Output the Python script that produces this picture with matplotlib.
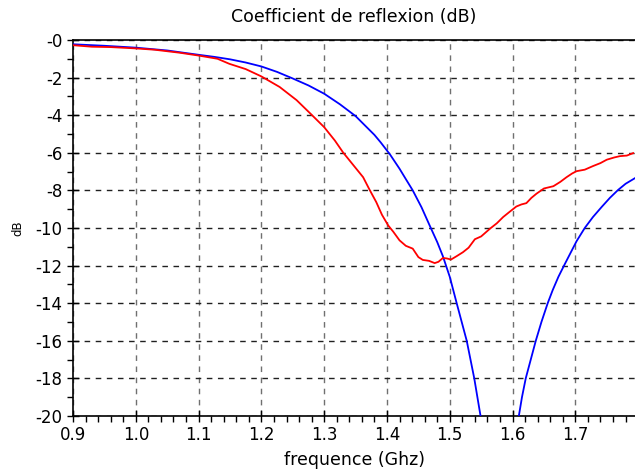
import numpy as np
import matplotlib
matplotlib.use("Agg")
import matplotlib.pyplot as plt
from matplotlib.ticker import MultipleLocator, FuncFormatter

# Courbe mesuree (rouge)
freq_mesure = [0.90, 0.93, 0.96, 1.00, 1.03, 1.07, 1.10, 1.13, 1.149, 1.175,
               1.20, 1.229, 1.256, 1.28, 1.30, 1.317, 1.33, 1.345, 1.362, 1.372,
               1.383, 1.392, 1.402, 1.41, 1.42, 1.43, 1.441, 1.45, 1.457, 1.467,
               1.476, 1.482, 1.489, 1.495, 1.502, 1.511, 1.521, 1.53, 1.54, 1.55,
               1.564, 1.575, 1.585, 1.595, 1.606, 1.614, 1.622, 1.63, 1.638, 1.65,
               1.665, 1.676, 1.686, 1.695, 1.702, 1.715, 1.728, 1.74, 1.75, 1.762,
               1.771, 1.782, 1.792]
s11_mesure = [-0.28, -0.36, -0.38, -0.45, -0.52, -0.68, -0.83, -1.0, -1.27, -1.55,
              -1.94, -2.5, -3.2, -3.98, -4.64, -5.35, -5.98, -6.6, -7.3, -7.95,
              -8.63, -9.3, -9.87, -10.2, -10.66, -10.95, -11.1, -11.55, -11.7, -11.75,
              -11.87, -11.8, -11.6, -11.62, -11.68, -11.5, -11.29, -11.05, -10.6, -10.45,
              -10.04, -9.75, -9.42, -9.15, -8.86, -8.75, -8.68, -8.4, -8.18, -7.9,
              -7.78, -7.55, -7.3, -7.1, -6.98, -6.9, -6.71, -6.55, -6.37, -6.25,
              -6.18, -6.15, -6.02]

# Courbe simulee (bleue), coupee sous -20 dB
freq_simu = [0.90, 0.95, 1.00, 1.05, 1.10, 1.125, 1.15, 1.175, 1.20, 1.225,
             1.25, 1.275, 1.30, 1.325, 1.35, 1.365, 1.38, 1.39, 1.405, 1.42,
             1.43, 1.441, 1.455, 1.468, 1.48, 1.489, 1.50, 1.511, 1.519, 1.527,
             1.533, 1.539, 1.544, 1.549,
             np.nan,
             1.61, 1.615, 1.621, 1.629, 1.637, 1.646, 1.656, 1.664, 1.673, 1.682,
             1.692, 1.702, 1.715, 1.728, 1.742, 1.755, 1.768, 1.78, 1.795]
s11_simu = [-0.23, -0.31, -0.41, -0.56, -0.79, -0.9, -1.03, -1.2, -1.41, -1.7,
            -2.05, -2.42, -2.86, -3.42, -4.05, -4.55, -5.05, -5.45, -6.1, -6.85,
            -7.4, -8.0, -8.9, -9.87, -10.75, -11.5, -12.6, -14.0, -15.0, -16.0,
            -17.0, -18.0, -19.0, -20.0,
            np.nan,
            -20.0, -19.0, -18.0, -17.0, -16.0, -15.0, -14.0, -13.3, -12.6, -12.0,
            -11.35, -10.7, -10.0, -9.42, -8.88, -8.4, -7.98, -7.65, -7.35]

fig = plt.figure(figsize=(6.35, 4.7), dpi=100)
ax = fig.add_axes([0.115, 0.115, 0.885, 0.8])

ax.plot(freq_simu, s11_simu, color='blue', lw=1.3, zorder=3)
ax.plot(freq_mesure, s11_mesure, color='red', lw=1.3, zorder=3)

ax.set_xlim(0.9, 1.795)
ax.set_ylim(-20, 0)

ax.xaxis.set_major_locator(MultipleLocator(0.1))
ax.xaxis.set_minor_locator(MultipleLocator(0.02))
ax.yaxis.set_major_locator(MultipleLocator(2))
ax.yaxis.set_minor_locator(MultipleLocator(1))
ax.yaxis.set_major_formatter(FuncFormatter(lambda v, p: "-%d" % abs(round(v))))
ax.xaxis.set_major_formatter(FuncFormatter(lambda v, p: "%.1f" % v))

ax.tick_params(which='major', direction='inout', length=8, width=1, labelsize=12)
ax.tick_params(which='minor', direction='out', length=4, width=1)

ax.xaxis.grid(True, which='major', linestyle=(0, (4, 4)), color='#707070', lw=1)
ax.yaxis.grid(True, which='major', linestyle=(0, (4, 4)), color='#202020', lw=1)
ax.set_axisbelow(True)

ax.spines['right'].set_visible(False)
for s in ['left', 'bottom', 'top']:
    ax.spines[s].set_linewidth(1.2)

ax.set_title("Coefficient de reflexion (dB)", fontsize=12.5, pad=13)
ax.set_xlabel("frequence (Ghz)", fontsize=12.5, labelpad=5)
ax.set_ylabel("dB", fontsize=8.5, labelpad=8)

fig.savefig("out.png", dpi=100)
